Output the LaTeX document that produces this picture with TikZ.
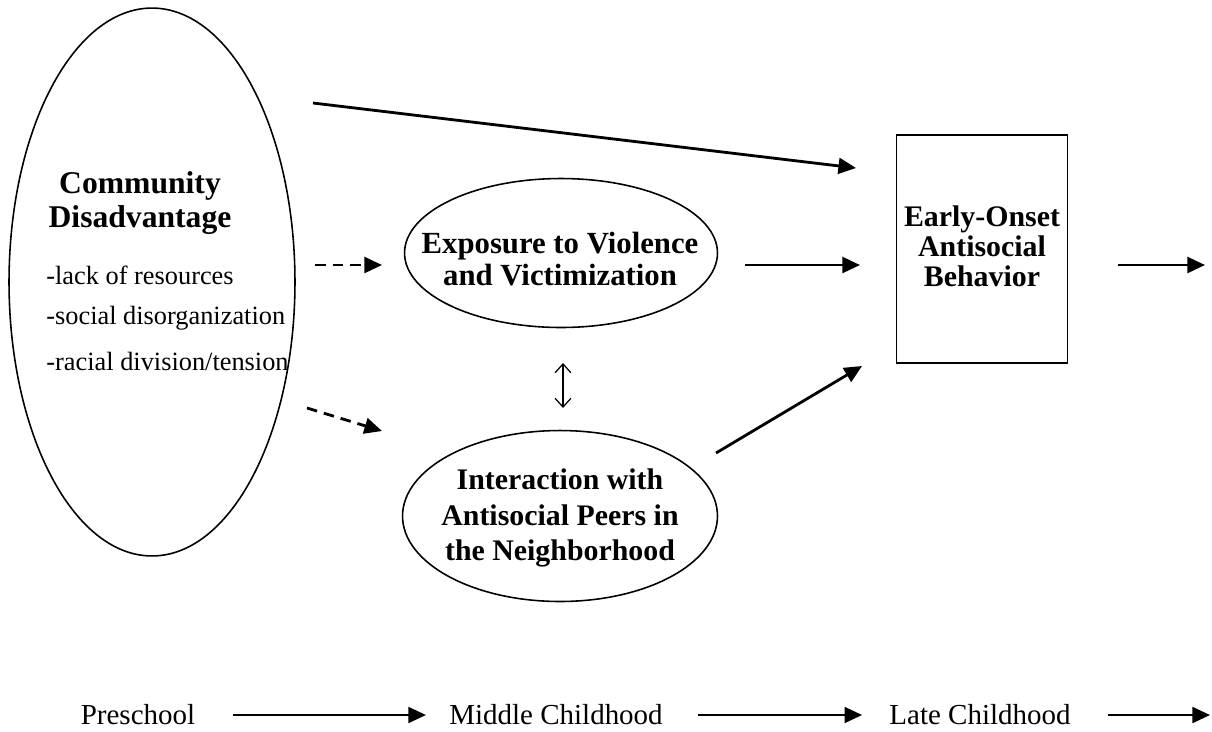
\documentclass[tikz,border=0pt]{standalone}
\usepackage{fontspec}
\setmainfont{Liberation Serif}
\usetikzlibrary{shapes.geometric,arrows.meta}
\begin{document}
\begin{tikzpicture}[x=0.02cm,y=-0.02cm,
        oval/.style={ellipse,draw,line width=0.9pt,inner sep=0pt},
        head/.style={align=center,inner sep=0pt,font=\fontsize{17.5}{18.7}\selectfont\bfseries},
        arr/.style={line width=1.6pt,-{Triangle[length=10pt,width=9pt]}},
        darr/.style={arr,dash pattern=on 6pt off 4pt},
        item/.style={anchor=west,inner sep=0pt,font=\fontsize{15}{15}\selectfont},
        stage/.style={inner sep=0pt,font=\fontsize{16.5}{18}\selectfont}]
            \useasboundingbox (0,0) rectangle (1212,731);
            \node[oval,minimum width=5.72cm,minimum height=10.96cm] (comm) at (152,282) {};
            \node[head,font=\fontsize{18}{19.3}\selectfont\bfseries] (title) at (140,203) {Community\\Disadvantage};
            \node[item] (lack) at (46,275) {-lack of resources};
            \node[item] (social) at (46,318) {-social disorganization};
            \node[item] (racial) at (46,361) {-racial division/tension};
            \node[oval,minimum width=6.26cm,minimum height=2.98cm] (expo) at (561,253) {};
            \node[head] (expotxt) at (560,259) {Exposure to Violence\\and Victimization};
            \node[oval,minimum width=6.3cm,minimum height=3.42cm] (inter) at (560,516) {};
            \node[head,font=\fontsize{17}{20.4}\selectfont\bfseries] (intertxt) at (560,518) {Interaction with\\Antisocial Peers in\\the Neighborhood};
            \node[draw,line width=0.9pt,minimum width=3.42cm,minimum height=4.56cm] (early) at (982,249) {};
            \node[head,font=\fontsize{17}{17.2}\selectfont\bfseries] (earlytxt) at (982,246) {Early-Onset\\Antisocial\\Behavior};
            \coordinate (top0) at (313,103);
            \coordinate (top1) at (856,168);
            \coordinate (da0) at (315,265);
            \coordinate (da1) at (382,265);
            \coordinate (db0) at (307,408);
            \coordinate (db1) at (382,431);
            \coordinate (ex0) at (745,265);
            \coordinate (ex1) at (860,265);
            \coordinate (in0) at (716,453);
            \coordinate (in1) at (862,366);
            \coordinate (out0) at (1118,265);
            \coordinate (out1) at (1205,265);
            \coordinate (both0) at (563,363);
            \coordinate (both1) at (563,408);
            \draw[arr] (top0) -- (top1);
            \draw[darr] (da0) -- (da1);
            \draw[darr] (db0) -- (db1);
            \draw[arr] (ex0) -- (ex1);
            \draw[arr] (in0) -- (in1);
            \draw[arr] (out0) -- (out1);
            \draw[line width=0.7pt,{Straight Barb[length=5pt,width=9pt]}-{Straight Barb[length=5pt,width=9pt]}] (both0) -- (both1);
            \node[stage] (pre) at (138,715) {Preschool};
            \node[stage] (mid) at (556,715) {Middle Childhood};
            \node[stage] (late) at (980,715) {Late Childhood};
            \coordinate (fin) at (1210,715);
            \draw[arr,line width=1.4pt,shorten <=0.74cm,shorten >=0.46cm] (pre) -- (mid);
            \draw[arr,line width=1.4pt,shorten <=0.7cm,shorten >=0.54cm] (mid) -- (late);
            \draw[arr,line width=1.4pt,shorten <=0.74cm] (late) -- (fin);
        \end{tikzpicture}
\end{document}
